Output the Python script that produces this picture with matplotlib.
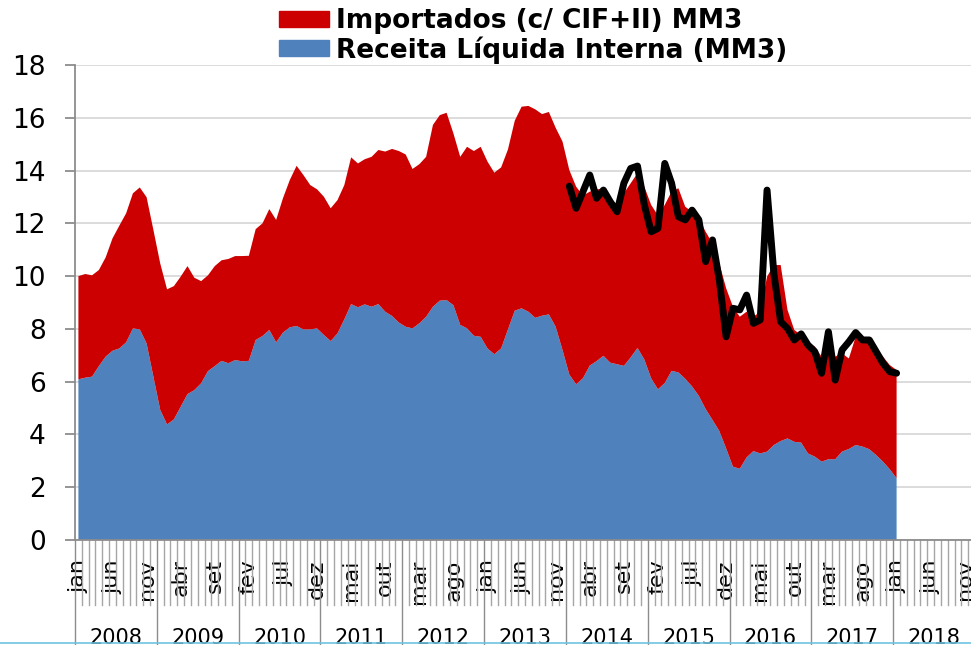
import numpy as np
import matplotlib
matplotlib.use("Agg")
import matplotlib.pyplot as plt
from matplotlib.patches import Patch
from matplotlib.lines import Line2D
import matplotlib.transforms as mtransforms

# meses jan/2008 .. jan/2018 (121 pontos), eixo vai ate dez/2018
meses_abrev = ["jan", "fev", "mar", "abr", "mai", "jun",
               "jul", "ago", "set", "out", "nov", "dez"]
anos = [2008, 2009, 2010, 2011, 2012, 2013, 2014, 2015, 2016, 2017, 2018]

# topo da area vermelha (receita interna + importados)
total_mm3 = [10.0, 10.08, 10.03, 10.23, 10.71, 11.43, 11.91, 12.38, 13.14, 13.36, 12.99, 11.75,
             10.48, 9.50, 9.62, 9.98, 10.38, 9.94, 9.81, 10.03, 10.38, 10.6, 10.65, 10.76,
             10.76, 10.77, 11.78, 12.0, 12.54, 12.13, 12.95, 13.64, 14.18, 13.83, 13.45, 13.29,
             13.01, 12.57, 12.88, 13.45, 14.50, 14.27, 14.43, 14.52, 14.78, 14.72, 14.82, 14.74,
             14.61, 14.06, 14.24, 14.52, 15.73, 16.1, 16.19, 15.41, 14.52, 14.9, 14.74, 14.9,
             14.34, 13.92, 14.12, 14.8, 15.89, 16.42, 16.45, 16.32, 16.14, 16.22, 15.62, 15.1,
             14.02, 13.39, 13.05, 13.2, 13.29, 13.3, 12.95, 12.7, 13.14, 13.52, 13.9, 13.39,
             12.7, 12.3, 12.7, 13.2, 13.33, 12.63, 12.44, 12.19, 11.68, 11.24, 10.48, 9.54,
             8.84, 8.46, 8.65, 8.46, 8.65, 9.98, 10.42, 10.42, 8.72, 7.96, 7.77, 7.51,
             7.33, 6.95, 7.33, 6.95, 7.07, 6.88, 7.70, 7.51, 7.51, 7.26, 6.95, 6.63,
             6.44]

receita = [6.09, 6.15, 6.19, 6.59, 6.95, 7.17, 7.26, 7.49, 8.02, 7.98, 7.45, 6.19,
           4.93, 4.38, 4.57, 5.05, 5.53, 5.68, 5.94, 6.40, 6.59, 6.79, 6.70, 6.82,
           6.77, 6.79, 7.58, 7.73, 7.96, 7.49, 7.86, 8.06, 8.11, 7.98, 7.98, 8.02,
           7.77, 7.54, 7.83, 8.36, 8.94, 8.82, 8.93, 8.84, 8.94, 8.65, 8.49, 8.24,
           8.08, 8.02, 8.21, 8.46, 8.84, 9.07, 9.09, 8.9, 8.15, 8.02, 7.74, 7.70,
           7.26, 7.04, 7.26, 7.98, 8.69, 8.78, 8.65, 8.42, 8.50, 8.55, 8.08, 7.2,
           6.27, 5.9, 6.13, 6.61, 6.78, 6.98, 6.72, 6.66, 6.60, 6.92, 7.28, 6.84,
           6.13, 5.71, 5.95, 6.41, 6.35, 6.11, 5.82, 5.46, 4.96, 4.55, 4.13, 3.47,
           2.78, 2.70, 3.13, 3.37, 3.28, 3.35, 3.6, 3.75, 3.85, 3.72, 3.69, 3.28,
           3.16, 2.97, 3.06, 3.06, 3.35, 3.45, 3.6, 3.54, 3.44, 3.22, 2.97, 2.68,
           2.34]

# linha preta a partir de jan/2014
linha_inicio = 72
linha_preta = [13.41, 12.57, 13.2, 13.83, 12.95, 13.26, 12.82, 12.44, 13.52, 14.08, 14.17, 12.7,
               11.68, 11.81, 14.27, 13.52, 12.25, 12.13, 12.5, 12.13, 10.55, 11.37, 9.85, 7.70,
               8.78, 8.72, 9.28, 8.21, 8.34, 13.26, 10.1, 8.27, 8.02, 7.58, 7.81, 7.39,
               7.14, 6.32, 7.89, 6.06, 7.2, 7.51, 7.86, 7.58, 7.58, 7.14, 6.70, 6.38,
               6.32]

total_mm3 = np.array(total_mm3)
receita = np.array(receita)
importados = total_mm3 - receita
x = np.arange(len(receita))
x_linha = np.arange(linha_inicio, linha_inicio + len(linha_preta))
n_meses = 12 * len(anos)

W, H = 971, 645
fig = plt.figure(figsize=(W / 100, H / 100), dpi=100)
# area do grafico: x 75..975 px, y 65..540 px
ax = fig.add_axes([75 / W, (H - 540) / H, 900 / W, 475 / H])

ax.stackplot(x, receita, importados, colors=["#4F81BD", "#CC0000"], linewidth=0, zorder=2)
ax.plot(x_linha, linha_preta, color="black", lw=5, solid_joinstyle="round",
        solid_capstyle="round", zorder=3)

ax.set_xlim(-0.5, n_meses - 0.5)
ax.set_ylim(0, 18)
ax.set_yticks(range(0, 19, 2))
ax.grid(axis="y", color="#D9D9D9", lw=1.3, zorder=0)
ax.set_axisbelow(True)
for s in ["top", "right"]:
    ax.spines[s].set_visible(False)
ax.spines["left"].set_color("#8C8C8C")
ax.spines["bottom"].set_color("#8C8C8C")
ax.spines["left"].set_linewidth(1.3)
ax.spines["bottom"].set_linewidth(1.3)
ax.tick_params(axis="y", length=7, width=1.3, color="#8C8C8C", pad=14, labelsize=19)

pos = list(range(0, n_meses, 5))
ax.set_xticks(pos, [meses_abrev[p % 12] for p in pos], rotation=90, fontsize=16)
ax.tick_params(axis="x", length=0, pad=14)

# divisorias de categoria e de ano abaixo do eixo
trans = mtransforms.blended_transform_factory(ax.transData, ax.transAxes)
y_mes = -65 / 475
y_ano = -110 / 475
for k in range(n_meses + 1):
    if k % 12 == 0:
        ax.plot([k - 0.5, k - 0.5], [0, y_ano], color="#8C8C8C", lw=1.0,
                transform=trans, clip_on=False)
    else:
        ax.plot([k - 0.5, k - 0.5], [0, y_mes], color="#A6A6A6", lw=1.0,
                transform=trans, clip_on=False)
for i, a in enumerate(anos):
    ax.text(12 * i + 5.5, -88 / 475, str(a), transform=trans, ha="center", va="top",
            fontsize=15)

fig.add_artist(Line2D([0, 1], [2 / H, 2 / H], color="#6FC3E0", lw=1.2))

handles = [Patch(color="#CC0000"), Patch(color="#4F81BD")]
fig.legend(handles, ["Importados (c/ CIF+II) MM3", "Receita Líquida Interna (MM3)"],
           loc="upper left", bbox_to_anchor=(279 / W, 1 - 8 / H), frameon=False,
           prop={"weight": "bold", "size": 19}, handlelength=1.9, handleheight=0.55,
           handletextpad=0.25, labelspacing=0.08, borderpad=0, borderaxespad=0)

fig.savefig("out.png", dpi=100)
